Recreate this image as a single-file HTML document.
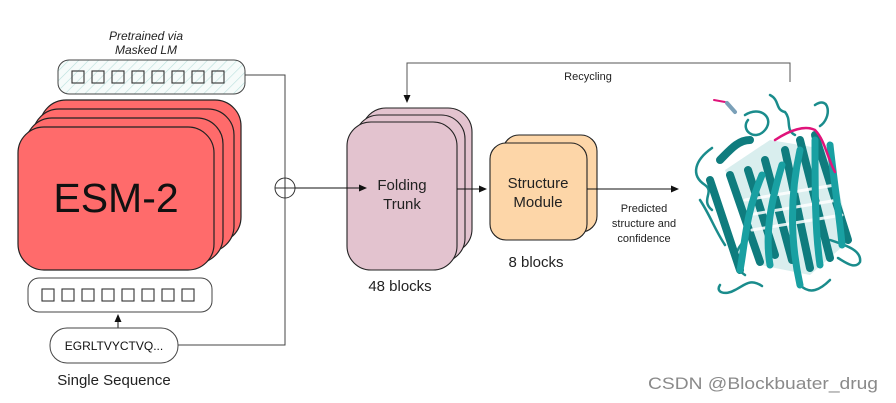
<!DOCTYPE html>
<html><head><meta charset="utf-8"><style>
html,body{margin:0;padding:0;background:#fff;}
svg{display:block;font-family:"Liberation Sans",Arial,sans-serif;}
</style></head><body>
<svg width="896" height="403" viewBox="0 0 896 403" xmlns="http://www.w3.org/2000/svg">
<defs>
<pattern id="hatch" width="7" height="7" patternUnits="userSpaceOnUse" patternTransform="rotate(45)">
<rect width="7" height="7" fill="#f6fbfa"/>
<line x1="0" y1="0" x2="0" y2="7" stroke="#b9e0dc" stroke-width="1.2"/>
</pattern>
<marker id="ar" markerWidth="8" markerHeight="8" refX="7" refY="4" orient="auto" markerUnits="userSpaceOnUse">
<path d="M0,0.5 L8,4 L0,7.5 Z" fill="#111"/>
</marker>
</defs>

<text x="146" y="40" font-size="12" font-style="italic" text-anchor="middle" fill="#222">Pretrained via</text>
<text x="146" y="54" font-size="12" font-style="italic" text-anchor="middle" fill="#222">Masked LM</text>
<rect x="58" y="60" width="187" height="34" rx="11" fill="url(#hatch)" stroke="#444" stroke-width="1"/>
<g fill="none" stroke="#333" stroke-width="1.1">
<rect x="72" y="71" width="12" height="12"/><rect x="92" y="71" width="12" height="12"/><rect x="112" y="71" width="12" height="12"/><rect x="132" y="71" width="12" height="12"/><rect x="152" y="71" width="12" height="12"/><rect x="172" y="71" width="12" height="12"/><rect x="192" y="71" width="12" height="12"/><rect x="212" y="71" width="12" height="12"/>
</g>

<g fill="#ff6b6b" stroke="#222" stroke-width="1.2">
<rect x="40" y="100" width="201" height="143" rx="26"/>
<rect x="33" y="109" width="201" height="143" rx="26"/>
<rect x="26" y="118" width="197" height="145" rx="26"/>
<rect x="18" y="127" width="196" height="143" rx="26"/>
</g>
<text x="116" y="212" font-size="41" text-anchor="middle" fill="#111">ESM-2</text>

<rect x="28" y="278" width="184" height="34" rx="11" fill="#fff" stroke="#444" stroke-width="1"/>
<g fill="none" stroke="#333" stroke-width="1.1">
<rect x="42" y="289" width="12" height="12"/><rect x="62" y="289" width="12" height="12"/><rect x="82" y="289" width="12" height="12"/><rect x="102" y="289" width="12" height="12"/><rect x="122" y="289" width="12" height="12"/><rect x="142" y="289" width="12" height="12"/><rect x="162" y="289" width="12" height="12"/><rect x="182" y="289" width="12" height="12"/>
</g>
<line x1="118" y1="328" x2="118" y2="315" stroke="#111" stroke-width="1" marker-end="url(#ar)"/>
<rect x="50" y="328" width="128" height="35" rx="17" fill="#fff" stroke="#444" stroke-width="1"/>
<text x="114" y="350" font-size="12" text-anchor="middle" fill="#111">EGRLTVYCTVQ...</text>
<text x="114" y="385" font-size="15" text-anchor="middle" fill="#222">Single Sequence</text>

<polyline points="178,345 285,345 285,198" fill="none" stroke="#444" stroke-width="1"/>
<polyline points="245,75 285,75 285,178" fill="none" stroke="#444" stroke-width="1"/>
<circle cx="285" cy="188" r="10" fill="#fff" stroke="#333" stroke-width="1"/>
<line x1="275" y1="188" x2="295" y2="188" stroke="#333" stroke-width="1"/>
<line x1="285" y1="178" x2="285" y2="198" stroke="#333" stroke-width="1"/>

<g fill="#e3c3cf" stroke="#222" stroke-width="1.1">
<rect x="362" y="108" width="110" height="145" rx="24"/>
<rect x="355" y="115" width="110" height="147" rx="24"/>
<rect x="347" y="122" width="110" height="148" rx="24"/>
</g>
<line x1="295" y1="188" x2="366" y2="188" stroke="#111" stroke-width="1" marker-end="url(#ar)"/>
<text x="402" y="190" font-size="15" text-anchor="middle" fill="#222">Folding</text>
<text x="402" y="209" font-size="15" text-anchor="middle" fill="#222">Trunk</text>
<text x="400" y="291" font-size="15" text-anchor="middle" fill="#222">48 blocks</text>

<line x1="457" y1="189" x2="486" y2="189" stroke="#111" stroke-width="1" marker-end="url(#ar)"/>

<g fill="#fdd6a8" stroke="#222" stroke-width="1.1">
<rect x="503" y="135" width="94" height="97" rx="16"/>
<rect x="490" y="143" width="97" height="97" rx="16"/>
</g>
<text x="538" y="188" font-size="15" text-anchor="middle" fill="#222">Structure</text>
<text x="538" y="207" font-size="15" text-anchor="middle" fill="#222">Module</text>
<text x="536" y="267" font-size="15" text-anchor="middle" fill="#222">8 blocks</text>

<line x1="587" y1="189" x2="678" y2="189" stroke="#111" stroke-width="1" marker-end="url(#ar)"/>
<text x="644" y="212" font-size="11" text-anchor="middle" fill="#222">Predicted</text>
<text x="644" y="227" font-size="11" text-anchor="middle" fill="#222">structure and</text>
<text x="644" y="242" font-size="11" text-anchor="middle" fill="#222">confidence</text>

<polyline points="790,82 790,63 407,63 407,102" fill="none" stroke="#555" stroke-width="1" marker-end="url(#ar)"/>
<text x="588" y="80" font-size="11" text-anchor="middle" fill="#222">Recycling</text>

<!-- Protein -->
<g fill="none" stroke-linecap="round" stroke-linejoin="round">
<path d="M725,170 L770,140 L830,150 L850,240 L810,275 L760,265 Z" fill="#d9eeee" stroke="none"/>
<g stroke="#1a8c8c" stroke-width="2.5">
<path d="M712,148 C695,160 690,175 705,185 C715,192 700,200 712,210"/>
<path d="M745,115 C760,105 775,118 765,130 C755,142 740,130 748,120"/>
<path d="M770,95 C780,100 775,110 785,112 C792,120 785,130 795,135"/>
<path d="M815,105 C830,95 832,118 820,126"/>
<path d="M700,200 C710,215 715,230 725,245"/>
<path d="M720,285 C715,292 725,296 735,290 C745,285 750,278 762,286"/>
<path d="M830,240 C845,245 862,250 860,262 C855,270 845,262 838,258"/>
<path d="M800,285 C810,295 820,290 830,280"/>
<path d="M745,240 C735,250 730,265 745,275"/>
</g>
<g stroke="#0f7c7e" stroke-width="8">
<path d="M720,160 C730,150 738,140 750,140"/>
<path d="M710,180 L740,270"/>
<path d="M730,175 L760,262"/>
<path d="M748,170 L775,255"/>
<path d="M765,160 L792,260"/>
<path d="M785,150 L810,268"/>
<path d="M800,140 L830,258"/>
<path d="M815,135 L848,240"/>
</g>
<g stroke="#ffffff" stroke-width="3" opacity="0.85">
<path d="M745,200 L835,185"/>
<path d="M748,215 L838,200"/>
<path d="M752,230 L842,215"/>
</g>
<g stroke="#19a0a2" stroke-width="7">
<path d="M762,175 C745,215 745,245 740,270"/>
<path d="M782,165 C770,205 765,235 770,265"/>
<path d="M800,150 C790,195 790,240 800,285"/>
<path d="M815,140 C815,190 815,230 820,265"/>
<path d="M830,145 C835,190 840,220 842,245"/>
</g>
<path d="M775,140 C790,130 805,125 815,130 C825,140 828,160 835,172" stroke="#e0137a" stroke-width="2.5"/>
<path d="M714,100 L725,102" stroke="#e0137a" stroke-width="2"/>
<path d="M727,103 L735,112" stroke="#7aa0b8" stroke-width="4"/>
</g>

<text x="648" y="389" font-size="17" fill="#8a8a8a" textLength="230" lengthAdjust="spacingAndGlyphs">CSDN @Blockbuater_drug</text>
</svg>
</body></html>
